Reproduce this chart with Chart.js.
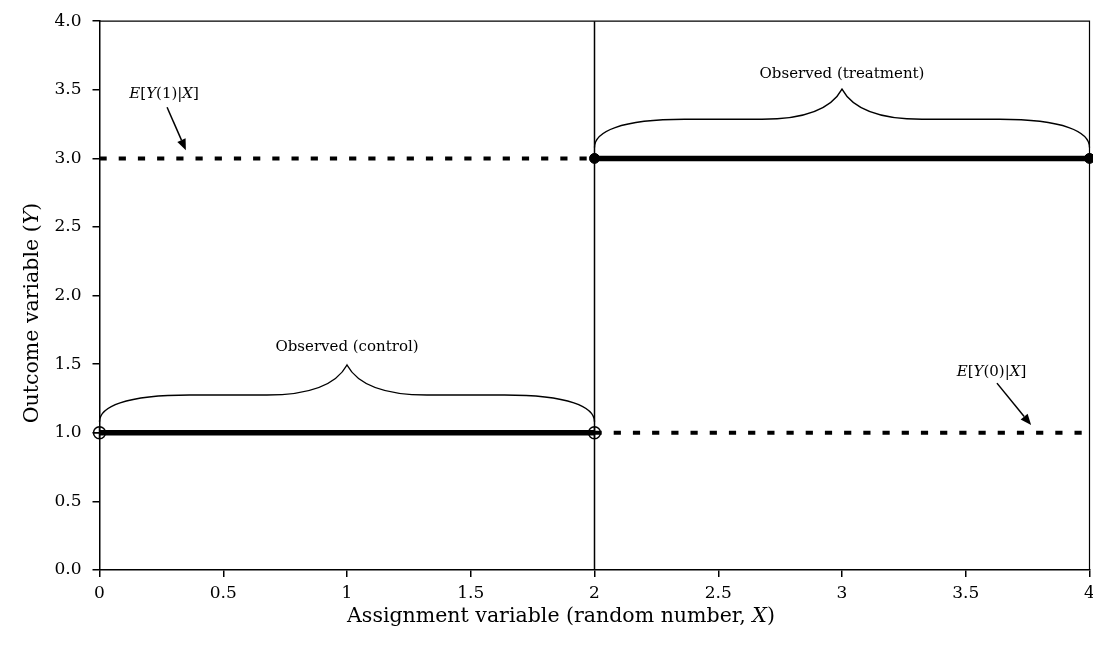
<!DOCTYPE html>
<html><head><meta charset="utf-8">
<script src="https://cdn.jsdelivr.net/npm/chart.js@4.4.0/dist/chart.umd.min.js"></script>
<style>html,body{margin:0;padding:0;background:#fff;overflow:hidden}#wrap{width:1093px;height:646px;position:relative}canvas{display:block}</style>
</head><body><div id="wrap"><canvas id="c"></canvas></div>
<script>
// ---- data ----
const xTickValues = [0, 0.5, 1, 1.5, 2, 2.5, 3, 3.5, 4];
const xTickLabels = ['0', '0.5', '1', '1.5', '2', '2.5', '3', '3.5', '4'];
const yTickValues = [0, 0.5, 1, 1.5, 2, 2.5, 3, 3.5, 4];
const yTickLabels = ['0.0', '0.5', '1.0', '1.5', '2.0', '2.5', '3.0', '3.5', '4.0'];

const cutoffX = [2, 2];          const cutoffY = [0, 4];
const controlX = [0, 2];         const controlY = [1, 1];
const treatmentX = [2, 4];       const treatmentY = [3, 3];
const potential1X = [0, 2];      const potential1Y = [3, 3];   // E[Y(1)|X], unobserved part
const potential0X = [2, 4];      const potential0Y = [1, 1];   // E[Y(0)|X], unobserved part

// braces over the observed segments
const braceFromX = [0, 2];
const braceToX   = [2, 4];
const braceBaseY = [1.08, 3.08];
const braceFlatY = [1.275, 3.285];
const bracePeakY = [1.494, 3.505];
const braceTexts = ['Observed (control)', 'Observed (treatment)'];
const braceTextY = [1.596, 3.585];

// labelled arrows
const arrowLabels = [
  [['E', 1], ['[', 0], ['Y', 1], ['(1)|', 0], ['X', 1], [']', 0]],
  [['E', 1], ['[', 0], ['Y', 1], ['(0)|', 0], ['X', 1], [']', 0]]
];
const arrowLabelX = [0.261, 3.604];
const arrowLabelY = [3.439, 1.413];
const arrowFromX = [0.273, 3.626];
const arrowFromY = [3.373, 1.362];
const arrowToX = [0.349, 3.764];
const arrowToY = [3.060, 1.056];

const xTitle = [['Assignment variable (random number, ', 0], ['X', 1], [')', 0]];
const yTitle = [['Outcome variable (', 0], ['Y', 1], [')', 0]];

// ---- helpers ----
const pts = (xs, ys) => xs.map((x, i) => ({ x, y: ys[i] }));
const FONT = '"DejaVu Serif", serif';
const INK = '#000';

function richText(ctx, parts, x, y, size, align) {
  let total = 0;
  const widths = parts.map(([t, it]) => {
    ctx.font = (it ? 'italic ' : '') + size + 'px ' + FONT;
    const w = ctx.measureText(t).width; total += w; return w;
  });
  let cx = align === 'center' ? x - total / 2 : x;
  ctx.textAlign = 'left';
  ctx.textBaseline = 'alphabetic';
  parts.forEach(([t, it], i) => {
    ctx.font = (it ? 'italic ' : '') + size + 'px ' + FONT;
    ctx.fillText(t, cx, y);
    cx += widths[i];
  });
}

const frame = {
  id: 'frame',
  beforeDatasetsDraw(chart) {
    const { ctx, chartArea: a } = chart;
    ctx.save();
    ctx.strokeStyle = INK; ctx.lineWidth = 1.2;
    ctx.beginPath();
    ctx.moveTo(a.left, a.top); ctx.lineTo(a.right, a.top); ctx.lineTo(a.right, a.bottom);
    ctx.stroke();
    ctx.restore();
  }
};

const annotate = {
  id: 'annotate',
  afterDatasetsDraw(chart) {
    const { ctx, scales: { x, y } } = chart;
    ctx.save();
    ctx.strokeStyle = INK; ctx.fillStyle = INK;
    // braces
    ctx.lineWidth = 1.4;
    braceFromX.forEach((bx, i) => {
      const xa = x.getPixelForValue(bx), xb = x.getPixelForValue(braceToX[i]);
      const xm = (xa + xb) / 2;
      const yb = y.getPixelForValue(braceBaseY[i]);
      const yf = y.getPixelForValue(braceFlatY[i]);
      const yp = y.getPixelForValue(bracePeakY[i]);
      const rise = yf - yp, drop = yb - yf;
      ctx.beginPath();
      ctx.moveTo(xa, yb);
      ctx.bezierCurveTo(xa, yb - 0.55 * drop, xa + 25, yf, xa + 90, yf);
      ctx.lineTo(xm - 80, yf);
      ctx.bezierCurveTo(xm - 40, yf, xm - 12, yf - 0.27 * rise, xm, yp);
      ctx.bezierCurveTo(xm + 12, yf - 0.27 * rise, xm + 40, yf, xm + 80, yf);
      ctx.lineTo(xb - 90, yf);
      ctx.bezierCurveTo(xb - 25, yf, xb, yb - 0.55 * drop, xb, yb);
      ctx.stroke();
      richText(ctx, [[braceTexts[i], 0]], xm, y.getPixelForValue(braceTextY[i]), 15, 'center');
    });
    // arrows + labels
    arrowLabels.forEach((parts, i) => {
      richText(ctx, parts, x.getPixelForValue(arrowLabelX[i]), y.getPixelForValue(arrowLabelY[i]), 15, 'center');
      const x0 = x.getPixelForValue(arrowFromX[i]), y0 = y.getPixelForValue(arrowFromY[i]);
      const x1 = x.getPixelForValue(arrowToX[i]), y1 = y.getPixelForValue(arrowToY[i]);
      const ang = Math.atan2(y1 - y0, x1 - x0);
      const hl = 11, hw = 4.5;
      const bx = x1 - hl * Math.cos(ang), by = y1 - hl * Math.sin(ang);
      ctx.lineWidth = 1.5;
      ctx.beginPath(); ctx.moveTo(x0, y0); ctx.lineTo(bx, by); ctx.stroke();
      ctx.beginPath();
      ctx.moveTo(x1, y1);
      ctx.lineTo(bx + hw * Math.sin(ang), by - hw * Math.cos(ang));
      ctx.lineTo(bx - hw * Math.sin(ang), by + hw * Math.cos(ang));
      ctx.closePath(); ctx.fill();
    });
    // axis titles
    richText(ctx, xTitle, 561, 622, 20.5, 'center');
    ctx.translate(38, 313);
    ctx.rotate(-Math.PI / 2);
    richText(ctx, yTitle, 0, 0, 20.5, 'center');
    ctx.restore();
  }
};

const tickFont = { family: FONT, size: 17 };

new Chart(document.getElementById('c'), {
  type: 'line',
  data: {
    datasets: [
      { data: pts(cutoffX, cutoffY), borderColor: INK, borderWidth: 1.5, pointRadius: 0, clip: false },
      { data: pts(potential1X, potential1Y), borderColor: INK, borderWidth: 4, borderDash: [7.2, 12], borderCapStyle: 'butt', pointRadius: 0, clip: false },
      { data: pts(potential0X, potential0Y), borderColor: INK, borderWidth: 4, borderDash: [7.2, 12], borderCapStyle: 'butt', pointRadius: 0, clip: false },
      { data: pts(controlX, controlY), borderColor: INK, borderWidth: 5.5, pointStyle: 'circle', pointRadius: 6,
        pointBackgroundColor: 'rgba(0,0,0,0)', pointBorderColor: INK, pointBorderWidth: 1.5, clip: false },
      { data: pts(controlX, controlY), showLine: false, pointStyle: 'cross', pointRadius: 6,
        pointBorderColor: INK, pointBorderWidth: 1.5, clip: false },
      { data: pts(treatmentX, treatmentY), borderColor: INK, borderWidth: 5.5, pointStyle: 'circle', pointRadius: 5,
        pointBackgroundColor: INK, pointBorderColor: INK, pointBorderWidth: 1, clip: false }
    ]
  },
  options: {
    responsive: true, maintainAspectRatio: false, animation: false,
    events: [],
    layout: { autoPadding: false, padding: { top: 21, right: 3.5, bottom: 0, left: 0 } },
    plugins: { legend: { display: false }, tooltip: { enabled: false } },
    scales: {
      x: {
        type: 'linear', position: 'bottom', min: 0, max: 4,
        afterBuildTicks: s => { s.ticks = xTickValues.map(v => ({ value: v })); },
        afterFit: s => { s.height = 76; s.paddingLeft = 0; s.paddingRight = 0; },
        ticks: { callback: (v, i) => xTickLabels[i], font: tickFont, color: INK, padding: 6, maxRotation: 0 },
        grid: { drawOnChartArea: false, drawTicks: true, tickLength: 7, color: INK, lineWidth: 1.5 },
        border: { color: INK, width: 1.5 }
      },
      y: {
        type: 'linear', position: 'left', min: 0, max: 4,
        afterBuildTicks: s => { s.ticks = yTickValues.map(v => ({ value: v })); },
        afterFit: s => { s.width = 99.5; },
        ticks: { callback: (v, i) => yTickLabels[i], font: tickFont, color: INK, padding: 11 },
        grid: { drawOnChartArea: false, drawTicks: true, tickLength: 7, color: INK, lineWidth: 1.5 },
        border: { color: INK, width: 1.5 }
      }
    }
  },
  plugins: [frame, annotate]
});
</script>
</body></html>
